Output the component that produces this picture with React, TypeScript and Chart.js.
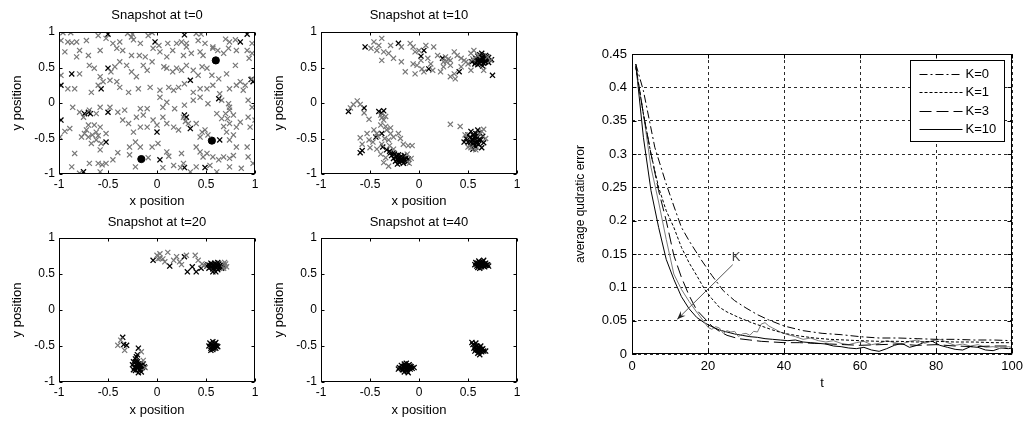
import React, { useEffect, useRef } from "react";
import { Chart, registerables } from "chart.js";

Chart.register(...registerables);

type P = [number, number];

// ---------- Snapshot t=0 ----------
const t0Black: P[] = [[-0.5,0.97],[0.28,0.96],[0.92,0.97],[-0.02,0.86],[0.85,0.86],[-0.87,0.41],[-0.98,0.25],[-0.5,0.49],[0.34,0.32],[0.98,0.3],[0.96,0.33],[-0.57,0.2],[0.63,0.06],[-0.74,-0.15],[-0.7,-0.13],[-0.68,-0.15],[-0.98,-0.24],[-0.5,-0.13],[-0.52,-0.55],[0,-0.41],[0.28,-0.17],[0.3,-0.2],[0.34,-0.36],[0.64,-0.52],[0.03,-0.8],[0.28,-0.91],[0.49,-0.91],[-0.75,-0.97]];
const t0Gray: P[] = [[-0.96,0.99],[-0.88,0.99],[-0.3,0.98],[-0.25,0.97],[-0.05,0.99],[0.4,0.98],[0.45,0.97],[0.7,0.9],
[-0.98,0.88],[-0.91,0.86],[-0.87,0.85],[-0.82,0.86],[-0.72,0.88],[-0.6,0.95],[-0.52,0.91],[-0.45,0.84],[-0.38,0.86],[-0.26,0.93],[-0.24,0.89],[-0.17,0.84],[-0.09,0.95],[0.02,0.81],[0.11,0.84],[0.2,0.84],[0.25,0.86],[0.3,0.84],[0.42,0.88],[0.49,0.84],[0.57,0.79],[0.74,0.86],[0.8,0.89],[0.97,0.84],
[-0.94,0.72],[-0.79,0.74],[-0.7,0.67],[-0.82,0.65],[-0.58,0.74],[-0.41,0.77],[-0.35,0.74],[-0.26,0.67],[-0.18,0.67],[-0.12,0.65],[-0.04,0.77],[0.03,0.72],[0.1,0.65],[0.16,0.74],[0.27,0.67],[0.3,0.79],[0.35,0.7],[0.44,0.72],[0.47,0.67],[0.57,0.77],[0.62,0.74],[0.68,0.7],[0.73,0.77],[0.81,0.74],[0.92,0.74],[0.97,0.7],[0.94,0.63],
[-0.98,0.39],[-0.79,0.41],[-0.91,0.2],[-0.69,0.53],[-0.64,0.49],[-0.58,0.37],[-0.47,0.44],[-0.43,0.51],[-0.55,0.3],[-0.48,0.32],[-0.41,0.3],[-0.38,0.58],[-0.31,0.53],[-0.26,0.44],[-0.21,0.37],[-0.14,0.53],[-0.1,0.46],[-0.05,0.58],[0.07,0.51],[0.1,0.49],[0.16,0.44],[0.2,0.49],[0.25,0.46],[0.3,0.53],[0.37,0.46],[0.42,0.39],[0.46,0.51],[0.51,0.49],[0.56,0.39],[0.63,0.34],[0.71,0.41],[0.8,0.53],[0.85,0.3],[0.9,0.25],[0.97,0.34],
[-0.84,0.2],[-0.67,0.15],[-0.6,0.25],[-0.38,0.22],[-0.29,0.15],[-0.19,0.2],[-0.07,0.22],[0.03,0.18],[0.12,0.22],[0.17,0.18],[0.22,0.22],[0.28,0.27],[0.37,0.15],[0.44,0.2],[0.51,0.2],[0.57,0.25],[0.64,0.13],[0.74,0.2],[0.81,0.25],[0.88,0.18],
[-0.86,-0.06],[-0.79,-0.13],[-0.69,-0.1],[-0.58,-0.06],[-0.48,-0.06],[-0.4,-0.13],[-0.33,-0.1],[-0.17,-0.08],[-0.1,-0.08],[0.03,0.08],[0.06,-0.06],[0.1,0.01],[0.18,-0.08],[0.28,-0.03],[0.37,0.04],[0.44,0.08],[0.52,-0.01],[0.66,0.04],[0.73,-0.01],[0.74,-0.1],[0.93,0.04],[0.97,-0.06],
[-0.75,-0.2],[-0.94,-0.4],[-0.89,-0.36],[-0.99,-0.48],
[-0.62,-0.15],[-0.64,-0.31],[-0.58,-0.34],[-0.7,-0.31],[-0.74,-0.43],[-0.77,-0.48],[-0.7,-0.48],[-0.62,-0.52],[-0.57,-0.57],[-0.52,-0.43],[-0.62,-0.41],[-0.67,-0.57],[-0.58,-0.66],[-0.72,-0.38],[-0.66,-0.45],[-0.6,-0.46],
[-0.35,-0.24],[-0.29,-0.29],[-0.21,-0.2],[-0.14,-0.17],[-0.17,-0.34],[-0.24,-0.41],[-0.1,-0.34],[-0.04,-0.24],[0,-0.31],[0.06,-0.2],[0.1,-0.29],[0.17,-0.34],[0.22,-0.38],[0.32,-0.29],[0.4,-0.29],[0.46,-0.41],[0.49,-0.38],[0.52,-0.45],[0.44,-0.48],[0.27,-0.2],[0.29,-0.26],
[0.61,-0.15],[0.66,-0.22],[0.7,-0.15],[0.74,-0.06],[0.78,-0.17],[0.74,-0.29],[0.81,-0.34],[0.85,-0.27],[0.93,-0.2],[0.95,-0.34],[1.0,-0.24],[0.71,-0.41],[0.78,-0.45],[0.74,-0.52],[0.68,-0.33],[0.72,-0.22],
[-0.84,-0.71],[-0.87,-0.9],[-0.6,-0.85],[-0.56,-0.87],[-0.52,-0.85],[-0.58,-0.97],[-0.28,-0.62],[-0.22,-0.55],[-0.17,-0.62],[-0.28,-0.73],[-0.22,-0.9],[-0.09,-0.77],[-0.05,-0.62],[0.01,-0.57],[0.06,-0.91],[0.1,-0.69],[0.17,-0.88],[0.24,-0.91],[0.27,-0.85],[0.34,-0.97],[0.25,-0.71],[0.4,-0.62],[0.44,-0.69],[0.47,-0.76],[0.51,-0.71],[0.54,-0.88],[0.57,-0.76],[0.63,-0.8],[0.61,-0.97],[0.68,-0.76],[0.74,-0.78],[0.78,-0.74],[0.81,-0.62],[0.92,-0.62],[0.93,-0.76],[0.98,-0.85],[0.86,-0.92],[0.74,-0.9],[0.4,-0.9],[-0.69,-0.85],[-0.79,-0.99],[0.12,-0.75],[-0.4,-0.7],[-0.45,-0.8]];
const t0Centers: P[] = [[-0.16,-0.79],[0.56,-0.53],[0.6,0.6]];

// ---------- Snapshot t=10 ----------
const t10Gray: P[] = [[-0.46,0.86],[-0.41,0.81],[-0.38,0.91],[-0.43,0.74],[-0.49,0.77],[-0.36,0.72],[-0.38,0.6],[-0.31,0.7],[-0.29,0.81],[-0.18,0.79],[-0.26,0.63],[-0.18,0.58],[-0.14,0.44],[-0.09,0.84],[-0.06,0.79],[-0.04,0.72],[-0.06,0.55],[-0.02,0.53],[0,0.74],[0.02,0.6],[0.03,0.48],[0.07,0.81],[0.09,0.63],[0.12,0.55],[0.15,0.79],[0.19,0.67],[0.27,0.65],[0.32,0.6],[0.36,0.72],[0.39,0.67],[0.43,0.63],[0.46,0.6],[0.5,0.55],[0.53,0.7],[0.56,0.74],[0.32,0.53],[0.36,0.41],[0.32,0.37],[0.37,0.34],[0.22,0.44],[0.14,0.46],[0.05,0.44],[-0.04,0.41],[0.25,0.51],[0.43,0.51],[0.53,0.46],[0.66,0.46],[0.25,0.58],[0.3,0.62],[0.28,0.58],[0.48,0.58],[0.55,0.62],[0.6,0.67],[0.7,0.65],[0.73,0.6],
[-0.7,-0.07],[-0.67,-0.02],[-0.63,0.03],[-0.6,-0.02],[-0.56,-0.14],[-0.51,-0.23],[-0.6,-0.49],[-0.58,-0.58],[-0.53,-0.43],[-0.51,-0.52],[-0.46,-0.38],[-0.43,-0.43],[-0.39,-0.17],[-0.38,-0.21],[-0.36,-0.24],[-0.34,-0.19],[-0.39,-0.31],[-0.34,-0.33],[-0.33,-0.38],[-0.29,-0.35],[-0.29,-0.43],[-0.31,-0.52],[-0.26,-0.48],[-0.21,-0.43],[-0.19,-0.5],[-0.16,-0.58],[-0.11,-0.6],[-0.07,-0.6],[-0.5,-0.63],[-0.43,-0.65],[-0.38,-0.58],[-0.39,-0.72],[-0.36,-0.84],[-0.31,-0.89],[-0.34,-0.77],[-0.26,-0.65],[-0.47,-0.55],[-0.42,-0.47],[-0.35,-0.5],[-0.3,-0.6],[-0.12,-0.72],[-0.08,-0.78],[-0.1,-0.85],
[0.32,-0.3],[0.42,-0.33],[0.66,-0.37],[0.62,-0.44],[0.53,-0.63],[0.68,-0.5],[0.47,-0.45],[0.58,-0.66],[0.64,-0.4],[0.5,-0.62]];
const t10Black: P[] = [[-0.55,0.79],[-0.21,0.84],[0.05,0.74],[0.24,0.63],[0.41,0.44],[0.75,0.39],[0.1,0.48],[0.02,0.66],
[0.56,0.6],[0.58,0.63],[0.58,0.57],[0.6,0.6],[0.6,0.66],[0.61,0.56],[0.62,0.62],[0.63,0.58],[0.64,0.64],[0.65,0.6],[0.66,0.56],[0.66,0.66],[0.67,0.62],[0.68,0.58],[0.69,0.62],[0.7,0.6],[0.71,0.64],[0.71,0.57],[0.62,0.68],[0.6,0.54],[0.65,0.52],[0.68,0.67],[0.54,0.58],[0.57,0.55],[0.74,0.61],[0.64,0.7],
[0.59,0.61],[0.63,0.61],[0.67,0.59],[0.65,0.64],[0.61,0.63],[0.69,0.65],
[-0.72,-0.12],[-0.56,-0.07],[-0.41,-0.12],[-0.44,-0.48],[-0.38,-0.43],[-0.58,-0.67],[-0.6,-0.7],[-0.29,-0.7],[-0.37,-0.62],[-0.33,-0.66],[-0.36,-0.11],[-0.38,-0.14],
[-0.28,-0.74],[-0.26,-0.78],[-0.25,-0.72],[-0.24,-0.82],[-0.23,-0.76],[-0.22,-0.79],[-0.21,-0.73],[-0.2,-0.84],[-0.2,-0.77],[-0.19,-0.8],[-0.18,-0.75],[-0.17,-0.82],[-0.16,-0.78],[-0.15,-0.74],[-0.14,-0.8],[-0.13,-0.77],[-0.12,-0.83],[-0.22,-0.86],[-0.26,-0.7],[-0.3,-0.68],[-0.16,-0.85],[-0.11,-0.79],
[-0.21,-0.81],[-0.18,-0.79],[-0.15,-0.81],[-0.23,-0.74],
[0.48,-0.5],[0.5,-0.45],[0.5,-0.55],[0.52,-0.48],[0.52,-0.6],[0.53,-0.4],[0.54,-0.52],[0.55,-0.45],[0.56,-0.57],[0.57,-0.5],[0.58,-0.43],[0.58,-0.62],[0.59,-0.54],[0.6,-0.48],[0.61,-0.58],[0.62,-0.42],[0.63,-0.52],[0.64,-0.63],[0.65,-0.47],[0.55,-0.65],[0.46,-0.55],[0.6,-0.38],[0.66,-0.56],[0.53,-0.55],
[0.55,-0.51],[0.57,-0.47],[0.59,-0.57],[0.61,-0.52],[0.56,-0.6]];

// ---------- Snapshot t=20 ----------
const t20Gray: P[] = [[0,0.76],[0.01,0.71],[0.03,0.78],[0.06,0.71],[0.08,0.67],[0.11,0.8],[0.17,0.69],[0.2,0.74],[0.23,0.67],[0.25,0.63],[0.3,0.76],[0.39,0.76],[0.42,0.69],[0.46,0.64],[0.48,0.62],[0.7,0.64],[0.71,0.6],[0.69,0.66],[0.03,0.72],[0.68,0.58],
[-0.4,-0.49],[-0.37,-0.42],[-0.33,-0.56],[-0.16,-0.58],[-0.12,-0.8],[-0.14,-0.7]];
const t20Black: P[] = [[-0.04,0.69],[0.28,0.74],[0.31,0.53],[0.4,0.53],[0.13,0.61],[0.36,0.6],[0.45,0.58],
[0.51,0.61],[0.52,0.63],[0.53,0.58],[0.54,0.62],[0.55,0.6],[0.56,0.64],[0.57,0.57],[0.58,0.61],[0.59,0.65],[0.6,0.59],[0.61,0.62],[0.62,0.56],[0.63,0.64],[0.64,0.6],[0.65,0.62],[0.66,0.58],[0.67,0.63],[0.68,0.61],[0.57,0.53],[0.6,0.53],[0.62,0.66],[0.55,0.65],
[0.56,0.6],[0.59,0.62],[0.62,0.6],[0.65,0.59],[0.58,0.58],
[-0.35,-0.38],[-0.31,-0.49],[-0.19,-0.53],[-0.34,-0.48],
[-0.25,-0.76],[-0.24,-0.72],[-0.23,-0.8],[-0.22,-0.68],[-0.22,-0.84],[-0.21,-0.76],[-0.2,-0.72],[-0.2,-0.8],[-0.19,-0.87],[-0.18,-0.78],[-0.17,-0.74],[-0.17,-0.82],[-0.16,-0.77],[-0.15,-0.8],[-0.14,-0.75],[-0.13,-0.79],[-0.21,-0.65],[-0.16,-0.86],[-0.24,-0.83],[-0.2,-0.62],
[-0.21,-0.8],[-0.19,-0.75],[-0.18,-0.83],[-0.22,-0.72],
[0.53,-0.5],[0.54,-0.46],[0.55,-0.53],[0.56,-0.48],[0.57,-0.44],[0.57,-0.55],[0.58,-0.5],[0.59,-0.47],[0.6,-0.53],[0.61,-0.5],[0.55,-0.56],[0.6,-0.45],[0.62,-0.51],
[0.56,-0.51],[0.58,-0.53],[0.59,-0.5]];

// ---------- Snapshot t=40 ----------
const t40Gray: P[] = [];
const t40Black: P[] = [[0.57,0.63],[0.58,0.66],[0.59,0.61],[0.6,0.65],[0.61,0.68],[0.62,0.62],[0.63,0.65],[0.64,0.6],[0.65,0.67],[0.66,0.63],[0.67,0.6],[0.68,0.65],[0.69,0.62],[0.7,0.63],[0.62,0.58],[0.66,0.69],[0.6,0.59],[0.71,0.61],
[0.59,0.64],[0.61,0.62],[0.63,0.62],[0.65,0.64],[0.67,0.64],[0.64,0.66],[0.62,0.66],[0.66,0.61],[0.68,0.62],
[0.55,-0.48],[0.56,-0.53],[0.57,-0.57],[0.58,-0.5],[0.59,-0.55],[0.6,-0.6],[0.61,-0.52],[0.62,-0.56],[0.63,-0.5],[0.64,-0.58],[0.65,-0.54],[0.66,-0.57],[0.58,-0.46],[0.62,-0.62],[0.54,-0.45],[0.68,-0.57],
[0.58,-0.54],[0.6,-0.52],[0.6,-0.56],[0.62,-0.53],[0.63,-0.57],[0.61,-0.59],[0.59,-0.5],[0.64,-0.55],
[-0.2,-0.8],[-0.18,-0.77],[-0.17,-0.83],[-0.16,-0.79],[-0.15,-0.75],[-0.14,-0.82],[-0.13,-0.78],[-0.12,-0.85],[-0.11,-0.8],[-0.1,-0.76],[-0.09,-0.82],[-0.08,-0.79],[-0.07,-0.81],[-0.13,-0.74],[-0.11,-0.87],[-0.05,-0.8],[-0.21,-0.82],[-0.15,-0.86],
[-0.18,-0.81],[-0.16,-0.83],[-0.14,-0.79],[-0.12,-0.81],[-0.1,-0.8],[-0.13,-0.83],[-0.09,-0.78],[-0.15,-0.78],[-0.11,-0.77]];

const snapTicks = [-1, -0.5, 0, 0.5, 1];

// ---------- Error curves ----------
const k0T = [1,3,6,9,11,13,15,18,21,24,27,30,33,36,40,45,50,55,60,65,70,75,80,85,90,95,100];
const k0Y = [0.435,0.395,0.31,0.255,0.222,0.19,0.17,0.143,0.118,0.095,0.08,0.069,0.059,0.051,0.042,0.035,0.031,0.029,0.026,0.024,0.024,0.023,0.022,0.022,0.021,0.021,0.02];
const k1T = [1,3,5,7,9,11,13,15,17,19,21,23,25,28,31,34,37,40,44,48,52,56,60,65,70,75,80,85,90,95,100];
const k1Y = [0.43,0.36,0.3,0.25,0.215,0.19,0.16,0.137,0.118,0.098,0.083,0.07,0.063,0.055,0.048,0.042,0.036,0.031,0.027,0.024,0.022,0.021,0.02,0.019,0.019,0.018,0.019,0.018,0.018,0.017,0.017];
const k3T = [1,3,5,7,9,11,13,15,17,19,21,23,25,28,31,34,37,40,44,48,52,56,60,65,70,75,80,85,90,95,100];
const k3Y = [0.432,0.36,0.3,0.245,0.2,0.148,0.115,0.088,0.066,0.054,0.042,0.034,0.028,0.023,0.021,0.019,0.018,0.017,0.017,0.016,0.015,0.014,0.013,0.014,0.015,0.013,0.014,0.012,0.011,0.012,0.012];
const k10T = [1,3,5,7,9,11,13,15,17,19,21,23,25,27,29,31,33,35,37,39,41,43,45,47,49,51,53,55,57,59,61,63,65,67,69,71,73,75,77,79,81,83,85,87,89,91,93,95,97,99,100];
const k10Y = [0.435,0.325,0.245,0.19,0.142,0.112,0.086,0.068,0.055,0.047,0.041,0.036,0.033,0.03,0.028,0.026,0.025,0.023,0.022,0.021,0.02,0.021,0.018,0.017,0.016,0.015,0.012,0.011,0.009,0.008,0.01,0.006,0.004,0.008,0.013,0.016,0.01,0.013,0.018,0.019,0.013,0.01,0.007,0.006,0.011,0.01,0.006,0.005,0.009,0.008,0.009];
const grayT = [1,3,5,7,9,11,13,15,17,19,20,21,22,23,24,25,26,27,28,29,30,31,32,33,34,35,36,37,39,41,43,45,47,49,51,53,55,57,59,61,63,65,67,69,71,73,75,77,79,81,83,85,87,89,91,93,95,97,99,100];
const grayY = [0.43,0.36,0.28,0.228,0.172,0.12,0.097,0.079,0.063,0.048,0.04,0.037,0.041,0.039,0.031,0.035,0.033,0.034,0.026,0.03,0.031,0.028,0.034,0.033,0.045,0.047,0.042,0.039,0.033,0.029,0.026,0.022,0.024,0.02,0.018,0.02,0.016,0.014,0.017,0.019,0.014,0.016,0.02,0.017,0.015,0.019,0.021,0.016,0.02,0.022,0.017,0.013,0.015,0.012,0.014,0.01,0.011,0.008,0.011,0.01];

const legendLabels = ["K=0", "K=1", "K=3", "K=10"];
const errXTicks = [0, 20, 40, 60, 80, 100];
const errYTicks = [0, 0.05, 0.1, 0.15, 0.2, 0.25, 0.3, 0.35, 0.4, 0.45];
const arrowFrom: P = [26.5, 0.134];
const arrowTo: P = [11.9, 0.052];
const arrowLabel = "K";

const FONT = '"Liberation Sans", Arial, Helvetica, sans-serif';

const toXY = (pts: P[]) => pts.map(([x, y]) => ({ x, y }));
const zipXY = (xs: number[], ys: number[]) => xs.map((x, i) => ({ x, y: ys[i] }));
const plainLabel = (v: any) => String(Math.round(Number(v) * 100) / 100);

function framePlugin(tickLen: number) {
  return {
    id: "frame",
    afterDraw(chart: any) {
      const { ctx, chartArea: a, scales } = chart;
      ctx.save();
      ctx.strokeStyle = "#000";
      ctx.lineWidth = 1;
      const l = Math.round(a.left) + 0.5, r = Math.round(a.right) - 0.5;
      const t = Math.round(a.top) + 0.5, b = Math.round(a.bottom) - 0.5;
      ctx.strokeRect(l, t, r - l, b - t);
      ctx.beginPath();
      scales.x.ticks.forEach((tk: any) => {
        const px = Math.round(scales.x.getPixelForValue(tk.value)) + 0.5;
        ctx.moveTo(px, b); ctx.lineTo(px, b - tickLen);
        ctx.moveTo(px, t); ctx.lineTo(px, t + tickLen);
      });
      scales.y.ticks.forEach((tk: any) => {
        const py = Math.round(scales.y.getPixelForValue(tk.value)) + 0.5;
        ctx.moveTo(l, py); ctx.lineTo(l + tickLen, py);
        ctx.moveTo(r, py); ctx.lineTo(r - tickLen, py);
      });
      ctx.stroke();
      ctx.restore();
    },
  };
}

type SnapProps = {
  title: string; gray: P[]; black: P[]; centers?: P[];
  left: number; top: number; height: number; titleY: number; xTitlePad: number;
};

function Snapshot({ title, gray, black, centers, left, top, height, titleY, xTitlePad }: SnapProps) {
  const ref = useRef<HTMLCanvasElement>(null);
  useEffect(() => {
    const plotTop = 32;
    const plotBottomGap = height === 210 ? 36 : 39;
    const datasets: any[] = [
      { data: toXY(gray), pointStyle: "crossRot", pointRadius: 3.6, borderColor: "#777", backgroundColor: "#777", borderWidth: 1.2 },
      { data: toXY(black), pointStyle: "crossRot", pointRadius: 3.6, borderColor: "#000", backgroundColor: "#000", borderWidth: 1.3 },
    ];
    if (centers) datasets.push({ data: toXY(centers), pointStyle: "circle", pointRadius: 3.6, borderColor: "#000", backgroundColor: "#000", borderWidth: 1 });
    const titlePlugin = {
      id: "snapTitle",
      afterDraw(chart: any) {
        const { ctx, chartArea: a } = chart;
        ctx.save();
        ctx.font = `13px ${FONT}`;
        ctx.fillStyle = "#000";
        ctx.textAlign = "center";
        ctx.textBaseline = "middle";
        ctx.fillText(title, (a.left + a.right) / 2, titleY);
        ctx.restore();
      },
    };
    const tickFont = { family: FONT, size: 12 };
    const chart = new Chart(ref.current!, {
      type: "scatter",
      data: { datasets },
      options: {
        responsive: false,
        animation: false,
        devicePixelRatio: 1,
        layout: { padding: { left: 0, top: plotTop, right: 15, bottom: 0 } },
        plugins: { legend: { display: false }, tooltip: { enabled: false } },
        scales: {
          x: {
            type: "linear", min: -1, max: 1,
            afterBuildTicks: (s: any) => { s.ticks = snapTicks.map((v) => ({ value: v })); },
            ticks: { color: "#000", font: tickFont, padding: 3, autoSkip: false, maxRotation: 0, callback: plainLabel },
            grid: { display: false, drawTicks: false },
            border: { display: false },
            title: { display: true, text: "x position", color: "#000", font: { family: FONT, size: 13 }, padding: { top: 0, bottom: xTitlePad } },
            afterFit: (s: any) => { s.height = plotBottomGap; },
          },
          y: {
            type: "linear", min: -1, max: 1,
            afterBuildTicks: (s: any) => { s.ticks = snapTicks.map((v) => ({ value: v })); },
            ticks: { color: "#000", font: tickFont, padding: 4, autoSkip: false, callback: plainLabel },
            grid: { display: false, drawTicks: false },
            border: { display: false },
            title: { display: true, text: "y position", color: "#000", font: { family: FONT, size: 13 }, padding: { top: 10, bottom: 0 } },
            afterFit: (s: any) => { s.width = 59; },
          },
        },
      } as any,
      plugins: [framePlugin(3), titlePlugin],
    });
    return () => chart.destroy();
  }, []);
  return (
    <canvas ref={ref} width={270} height={height}
      style={{ position: "absolute", left, top, width: 270, height }} />
  );
}

function ErrorChart() {
  const ref = useRef<HTMLCanvasElement>(null);
  useEffect(() => {
    const datasets: any[] = [
      { label: legendLabels[0], data: zipXY(k0T, k0Y), borderColor: "#000", borderDash: [8, 3, 2, 3], borderWidth: 1 },
      { label: legendLabels[1], data: zipXY(k1T, k1Y), borderColor: "#000", borderDash: [3, 2], borderWidth: 1 },
      { label: legendLabels[2], data: zipXY(k3T, k3Y), borderColor: "#000", borderDash: [12, 5], borderWidth: 1 },
      { label: "", data: zipXY(grayT, grayY), borderColor: "#7a7a7a", borderWidth: 1 },
      { label: legendLabels[3], data: zipXY(k10T, k10Y), borderColor: "#000", borderWidth: 1 },
    ];
    datasets.forEach((d) => { d.pointRadius = 0; d.tension = 0; d.fill = false; d.backgroundColor = "transparent"; });

    const legendPlugin = {
      id: "boxLegend",
      afterDraw(chart: any) {
        const { ctx, chartArea: a } = chart;
        const w = 94, h = 81;
        const x0 = Math.round(a.right - 8 - w) + 0.5, y0 = Math.round(a.top + 6) + 0.5;
        ctx.save();
        ctx.fillStyle = "#fff";
        ctx.fillRect(x0, y0, w, h);
        ctx.strokeStyle = "#000";
        ctx.lineWidth = 1;
        ctx.strokeRect(x0, y0, w, h);
        ctx.font = `13px ${FONT}`;
        ctx.textBaseline = "middle";
        ctx.fillStyle = "#000";
        const items = chart.data.datasets.filter((d: any) => d.label);
        items.forEach((d: any, i: number) => {
          const y = Math.round(y0 + 13 + i * 18.6) + 0.5;
          ctx.beginPath();
          ctx.setLineDash(d.borderDash || []);
          ctx.strokeStyle = d.borderColor;
          ctx.moveTo(x0 + 9, y);
          ctx.lineTo(x0 + 52, y);
          ctx.stroke();
          ctx.setLineDash([]);
          ctx.fillText(d.label, x0 + 55, y);
        });
        ctx.restore();
      },
    };
    const arrowPlugin = {
      id: "arrow",
      afterDatasetsDraw(chart: any) {
        const { ctx, scales } = chart;
        const x1 = scales.x.getPixelForValue(arrowFrom[0]), y1 = scales.y.getPixelForValue(arrowFrom[1]);
        const x2 = scales.x.getPixelForValue(arrowTo[0]), y2 = scales.y.getPixelForValue(arrowTo[1]);
        ctx.save();
        ctx.strokeStyle = "#555";
        ctx.fillStyle = "#222";
        ctx.lineWidth = 1;
        ctx.beginPath();
        ctx.moveTo(x1, y1);
        ctx.lineTo(x2, y2);
        ctx.stroke();
        const ang = Math.atan2(y2 - y1, x2 - x1);
        const L = 9, W = 0.38;
        ctx.beginPath();
        ctx.moveTo(x2, y2);
        ctx.lineTo(x2 - L * Math.cos(ang - W), y2 - L * Math.sin(ang - W));
        ctx.lineTo(x2 - L * 0.6 * Math.cos(ang), y2 - L * 0.6 * Math.sin(ang));
        ctx.lineTo(x2 - L * Math.cos(ang + W), y2 - L * Math.sin(ang + W));
        ctx.closePath();
        ctx.fill();
        ctx.font = `13px ${FONT}`;
        ctx.fillStyle = "#444";
        ctx.textAlign = "left";
        ctx.textBaseline = "bottom";
        ctx.fillText(arrowLabel, x1 - 1, y1 - 1);
        ctx.restore();
      },
    };
    const tickFont = { family: FONT, size: 13 };
    const gridOpts = { color: "#2a2a2a", lineWidth: 1, drawTicks: false };
    const chart = new Chart(ref.current!, {
      type: "line",
      data: { datasets },
      options: {
        responsive: false,
        animation: false,
        devicePixelRatio: 1,
        layout: { padding: { left: 0, top: 54, right: 8, bottom: 0 } },
        plugins: { legend: { display: false }, tooltip: { enabled: false } },
        scales: {
          x: {
            type: "linear", min: 0, max: 100,
            afterBuildTicks: (s: any) => { s.ticks = errXTicks.map((v) => ({ value: v })); },
            ticks: { color: "#000", font: tickFont, padding: 5, autoSkip: false, maxRotation: 0, callback: plainLabel },
            grid: gridOpts,
            border: { display: false, dash: [3, 3] },
            title: { display: true, text: "t", color: "#000", font: { family: FONT, size: 13 }, padding: { top: 0, bottom: 30 } },
            afterFit: (s: any) => { s.height = 67; },
          },
          y: {
            type: "linear", min: 0, max: 0.45,
            afterBuildTicks: (s: any) => { s.ticks = errYTicks.map((v) => ({ value: v })); },
            ticks: { color: "#000", font: tickFont, padding: 5, autoSkip: false, callback: plainLabel },
            grid: gridOpts,
            border: { display: false, dash: [3, 3] },
            title: { display: true, text: "average qudratic error", color: "#000", font: { family: FONT, size: 12 }, padding: { top: 33, bottom: 0 } },
            afterFit: (s: any) => { s.width = 92; },
          },
        },
      } as any,
      plugins: [framePlugin(4), arrowPlugin, legendPlugin],
    });
    return () => chart.destroy();
  }, []);
  return (
    <canvas ref={ref} width={488} height={421}
      style={{ position: "absolute", left: 540, top: 0, width: 488, height: 421 }} />
  );
}

export default function App() {
  return (
    <div style={{ position: "absolute", left: 0, top: 0, width: 1028, height: 421, background: "#fff", overflow: "hidden" }}>
      <Snapshot title="Snapshot at t=0" gray={t0Gray} black={t0Black} centers={t0Centers} left={0} top={0} height={210} titleY={15} xTitlePad={1} />
      <Snapshot title="Snapshot at t=10" gray={t10Gray} black={t10Black} left={262} top={0} height={210} titleY={15} xTitlePad={1} />
      <Snapshot title="Snapshot at t=20" gray={t20Gray} black={t20Black} left={0} top={206} height={215} titleY={16} xTitlePad={3} />
      <Snapshot title="Snapshot at t=40" gray={t40Gray} black={t40Black} left={262} top={206} height={215} titleY={16} xTitlePad={3} />
      <ErrorChart />
    </div>
  );
}
